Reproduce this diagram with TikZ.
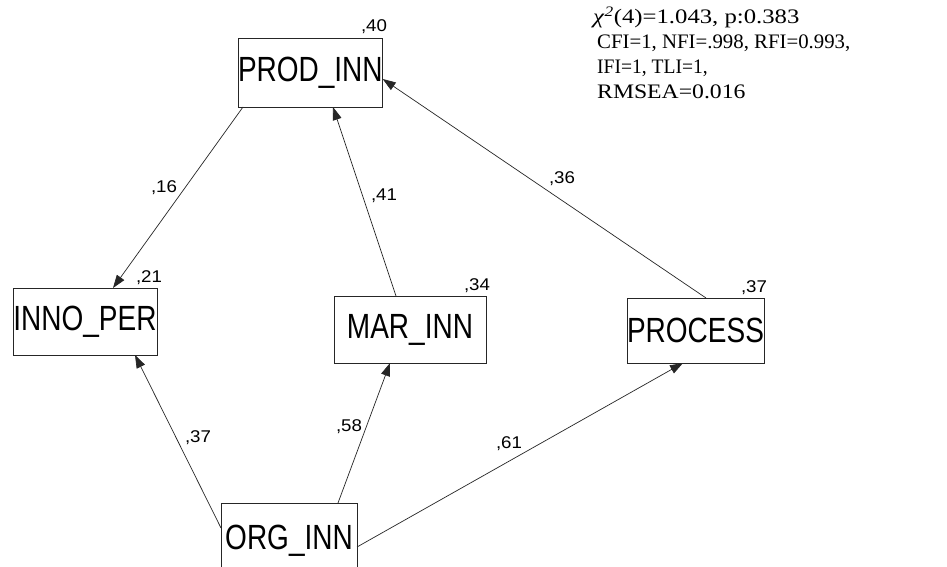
\documentclass[tikz,border=0pt]{standalone}
\usepackage{fontspec}
\setmainfont{Liberation Serif}
\newfontfamily\arialf{Liberation Sans}
\usetikzlibrary{arrows.meta,calc}
\tikzset{
  varbox/.style={draw=black!85, line width=0.8pt, anchor=north west, inner sep=0pt, outer sep=0pt,
    font=\arialf\fontsize{28}{28}\selectfont},
  coef/.style={anchor=base, inner sep=0pt, font=\arialf\fontsize{17}{17}\selectfont},
  fitline/.style={anchor=base west, inner sep=0pt, font=\fontsize{20.6}{20.6}\selectfont},
  path/.style={draw=black!85, line width=0.7pt, -{Triangle[length=13pt,width=9pt]}}
}
\newcommand{\vtext}[1]{\scalebox{1}[1.25]{#1}}
\newcommand{\htext}[1]{\scalebox{1.1}[1]{#1}}
\begin{document}
\begin{tikzpicture}[x=1pt,y=-1pt]
\clip (0,0) rectangle (947,567);
\fill[white] (0,0) rectangle (947,567);

% boxes
\node[varbox, minimum width=144pt, minimum height=69pt] (prod) at (238,38) {\vtext{PROD\_INN}};
\node[varbox, minimum width=144pt, minimum height=67pt] (inno) at (13,288) {\vtext{INNO\_PER}};
\node[varbox, minimum width=152pt, minimum height=67pt] (mar) at (334,296) {\vtext{MAR\_INN}};
\node[varbox, minimum width=135pt, minimum height=65pt] (proc) at (627,298) {\vtext{PROCESS}};
\node[varbox, minimum width=136pt, minimum height=76pt] (org) at (221,503) {\vtext{ORG\_INN}};

% paths
\draw[path] ($(prod.south west)+(5,0)$) -- ($(inno.north west)+(100,0)$);
\draw[path] ($(mar.north west)+(62,0)$) -- ($(prod.south west)+(95,0)$);
\draw[path] ($(proc.north west)+(79,0)$) -- ($(prod.south east)+(0,-28)$);
\draw[path] ($(org.north west)+(0,25)$) -- ($(inno.south west)+(122,0)$);
\draw[path] ($(org.north west)+(117,0)$) -- ($(mar.south west)+(56,0)$);
\draw[path] ($(org.north east)+(0,44)$) -- ($(proc.south west)+(56,0)$);

% squared multiple correlations
\node[coef] (r40) at (374,32) {\htext{,40}};
\node[coef] (r21) at (149,282) {\htext{,21}};
\node[coef] (r34) at (477,290) {\htext{,34}};
\node[coef] (r37) at (754,292) {\htext{,37}};

% path coefficients
\node[coef] (c16) at (164,192) {\htext{,16}};
\node[coef] (c41) at (384,200) {\htext{,41}};
\node[coef] (c36) at (562,183) {\htext{,36}};
\node[coef] (c37) at (198,442) {\htext{,37}};
\node[coef] (c58) at (349,431) {\htext{,58}};
\node[coef] (c61) at (509,448) {\htext{,61}};

% fit indices
\node[fitline] (fit1) at (593,24) {\scalebox{1.2}[1]{\textit{χ}\textsuperscript{\textit{2}}(4)=1.043, p:0.383}};
\node[fitline] (fit2) at (597,49) {\scalebox{1.01}[1]{CFI=1, NFI=.998, RFI=0.993,}};
\node[fitline] (fit3) at (597,74) {\scalebox{0.95}[1]{IFI=1, TLI=1,}};
\node[fitline] (fit4) at (597,99) {\scalebox{1.15}[1]{RMSEA=0.016}};
\end{tikzpicture}
\end{document}
